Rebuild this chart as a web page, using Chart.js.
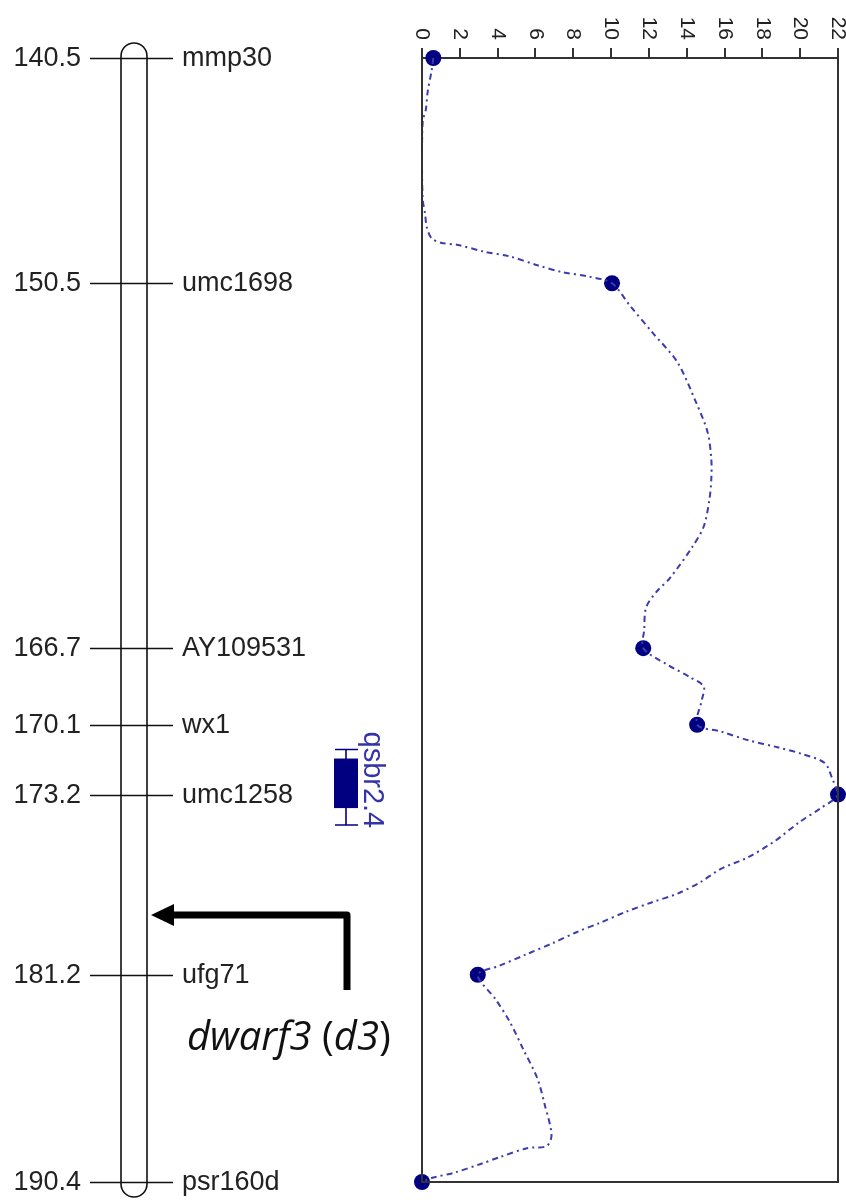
<!DOCTYPE html>
<html>
<head>
<meta charset="utf-8">
<script src="https://cdn.jsdelivr.net/npm/chart.js@4"></script>
<style>
  body { margin: 0; background: #fff; }
  #wrap { width: 846px; height: 1200px; position: relative; }
</style>
</head>
<body>
<div id="wrap"><canvas id="map"></canvas></div>
<script>
// markers on the linkage map (cM) and LOD at each marker
const markerNames = ['mmp30', 'umc1698', 'AY109531', 'wx1', 'umc1258', 'ufg71', 'psr160d'];
const markerPos = [140.5, 150.5, 166.7, 170.1, 173.2, 181.2, 190.4];
const markerLod = [0.6, 10.05, 11.7, 14.55, 22.0, 2.95, 0.0];

// LOD profile along the chromosome
const curvePos = [140.5, 141.1, 142.0, 142.8, 143.3, 145.0, 146.8, 147.4, 148.0, 148.5, 148.7, 148.8,
  149.1, 149.3, 149.7, 150.0, 150.2, 150.5,
  151.5, 152.7, 154.0, 155.8, 157.1, 158.3, 159.2, 160.1, 161.3, 162.2, 163.6, 164.2, 164.9, 165.9, 166.7,
  167.4, 168.0, 168.4, 169.0, 170.1,
  170.4, 170.8, 171.1, 171.4, 171.8, 172.5, 173.2,
  173.8, 174.4, 175.3, 176.0, 176.5, 177.1, 177.6, 178.0, 178.4, 178.9, 179.3, 179.8, 180.3, 180.8, 181.2,
  182.3, 183.3, 184.5, 185.8, 187.0, 188.3, 188.8, 188.9, 189.3, 189.6, 190.0, 190.2, 190.4];
const curveLod = [0.6, 0.5, 0.3, 0.2, 0.04, 0.0, 0.04, 0.16, 0.25, 0.5, 1.0, 1.9,
  3.3, 4.6, 6.1, 7.4, 8.8, 10.05,
  11.0, 12.2, 13.5, 14.5, 15.1, 15.3, 15.3, 15.2, 14.9, 14.3, 13.1, 12.4, 11.85, 11.75, 11.7,
  12.9, 14.2, 14.9, 14.8, 14.55,
  15.8, 17.3, 18.8, 20.1, 21.3, 21.7, 22.0,
  21.1, 20.0, 18.6, 17.2, 15.8, 14.7, 13.5, 12.1, 10.8, 9.4, 8.2, 6.9, 5.5, 4.1, 2.95,
  3.9, 4.65, 5.35, 6.1, 6.5, 6.85, 6.6, 5.55, 4.1, 3.1, 1.65, 0.6, 0.0];

const lodTicks = [0, 2, 4, 6, 8, 10, 12, 14, 16, 18, 20, 22];

// QTL qsbr2.4: box interval and whisker interval (cM)
const qtlName = 'qsbr2.4';
const qtlBox = [171.6, 173.8];
const qtlWhisker = [171.2, 174.55];

// dwarf3 gene location pointer (cM)
const geneLabel = ['dwarf3', 'd3'];
const genePos = 178.55;

const linkageMap = {
  id: 'linkageMap',
  afterDraw(chart) {
    const ctx = chart.ctx;
    const y = chart.scales.y;
    const x = chart.scales.x;
    const area = chart.chartArea;
    ctx.save();

    // frame round the LOD plot
    ctx.strokeStyle = '#333';
    ctx.lineWidth = 2;
    ctx.beginPath();
    ctx.moveTo(area.left, area.top);
    ctx.lineTo(area.left, area.bottom);
    ctx.lineTo(area.right, area.bottom);
    ctx.lineTo(area.right, area.top);
    ctx.stroke();

    // rotated tick labels
    ctx.fillStyle = '#222';
    ctx.font = '21px "Liberation Sans", Arial, sans-serif';
    lodTicks.forEach(t => {
      const px = x.getPixelForValue(t);
      ctx.save();
      ctx.translate(px, area.top - 18);
      ctx.rotate(Math.PI / 2);
      ctx.textAlign = 'right';
      ctx.textBaseline = 'middle';
      ctx.fillText(String(t), 0, 0);
      ctx.restore();
    });

    // chromosome bar
    const top = y.getPixelForValue(markerPos[0]) - 15;
    const bot = y.getPixelForValue(markerPos[markerPos.length - 1]) + 15;
    ctx.strokeStyle = '#111';
    ctx.lineWidth = 1.6;
    ctx.beginPath();
    ctx.roundRect(121, top, 26, bot - top, 13);
    ctx.stroke();

    // markers
    ctx.font = '27px "Liberation Sans", Arial, sans-serif';
    ctx.textBaseline = 'middle';
    markerPos.forEach((p, i) => {
      const py = Math.round(y.getPixelForValue(p)) + 0.5;
      ctx.beginPath();
      ctx.moveTo(90, py);
      ctx.lineTo(173, py);
      ctx.stroke();
      ctx.textAlign = 'right';
      ctx.fillText(p.toFixed(1), 81, py);
      ctx.textAlign = 'left';
      ctx.fillText(markerNames[i], 182, py);
    });

    // QTL box with whiskers
    const qx = 346;
    const b0 = y.getPixelForValue(qtlBox[0]), b1 = y.getPixelForValue(qtlBox[1]);
    const w0 = y.getPixelForValue(qtlWhisker[0]), w1 = y.getPixelForValue(qtlWhisker[1]);
    ctx.fillStyle = '#000080';
    ctx.fillRect(qx - 12, b0, 24, b1 - b0);
    ctx.strokeStyle = '#000080';
    ctx.lineWidth = 1.6;
    ctx.beginPath();
    ctx.moveTo(qx, w0); ctx.lineTo(qx, w1);
    ctx.moveTo(qx - 11, w0); ctx.lineTo(qx + 12, w0);
    ctx.moveTo(qx - 11, w1); ctx.lineTo(qx + 12, w1);
    ctx.stroke();
    ctx.save();
    ctx.translate(372, w0 - 18);
    ctx.rotate(Math.PI / 2);
    ctx.fillStyle = '#3434a8';
    ctx.font = '29px "Liberation Sans", Arial, sans-serif';
    ctx.textAlign = 'left';
    ctx.textBaseline = 'middle';
    ctx.fillText(qtlName, 0, 0);
    ctx.restore();

    // arrow pointing at the dwarf3 locus
    const gy = y.getPixelForValue(genePos);
    ctx.strokeStyle = '#000';
    ctx.fillStyle = '#000';
    ctx.lineWidth = 7;
    ctx.lineJoin = 'round';
    ctx.beginPath();
    ctx.moveTo(347, gy + 75);
    ctx.lineTo(347, gy);
    ctx.lineTo(170, gy);
    ctx.stroke();
    ctx.beginPath();
    ctx.moveTo(151, gy);
    ctx.lineTo(174, gy - 11);
    ctx.lineTo(174, gy + 11);
    ctx.closePath();
    ctx.fill();

    // gene label, italic gene names
    const ty = gy + 135;
    let tx = 187;
    const it = 'italic 40px "Open Sans", sans-serif';
    const up = '40px "Open Sans", sans-serif';
    ctx.textAlign = 'left';
    ctx.textBaseline = 'alphabetic';
    ctx.fillStyle = '#111';
    [[geneLabel[0], it], [' (', up], [geneLabel[1], it], [')', up]].forEach(([s, f]) => {
      ctx.font = f;
      ctx.fillText(s, tx, ty);
      tx += ctx.measureText(s).width;
    });

    ctx.restore();
  }
};

const ctx = document.getElementById('map').getContext('2d');
new Chart(ctx, {
  type: 'scatter',
  data: {
    datasets: [{
      data: curvePos.map((p, i) => ({ x: curveLod[i], y: p })),
      showLine: true,
      borderColor: '#3c3cac',
      borderWidth: 2,
      borderDash: [6, 4, 2, 4],
      pointRadius: 0,
      tension: 0.3,
      clip: false
    }, {
      data: markerPos.map((p, i) => ({ x: markerLod[i], y: p })),
      pointRadius: 8,
      backgroundColor: '#000080',
      borderColor: '#000080',
      borderWidth: 0,
      clip: false
    }]
  },
  options: {
    responsive: true,
    maintainAspectRatio: false,
    animation: false,
    layout: { padding: { left: 422, right: 8, top: 0, bottom: 18 } },
    plugins: { legend: { display: false }, tooltip: { enabled: false } },
    scales: {
      x: {
        type: 'linear',
        position: 'top',
        min: 0,
        max: 22,
        ticks: { display: false, stepSize: 2 },
        grid: { drawOnChartArea: false, drawTicks: true, tickLength: 10, color: '#333', lineWidth: 2 },
        border: { display: true, color: '#333', width: 2 },
        afterFit: s => { s.height = 58; }
      },
      y: {
        type: 'linear',
        reverse: true,
        min: 140.5,
        max: 190.4,
        display: false
      }
    }
  },
  plugins: [linkageMap]
});
</script>
</body>
</html>
